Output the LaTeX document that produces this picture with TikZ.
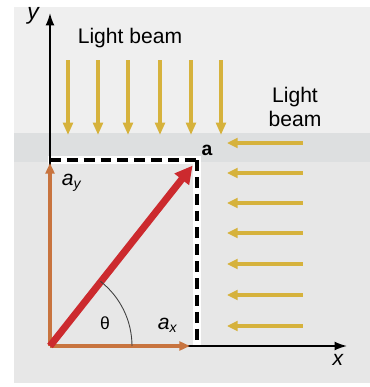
\documentclass[tikz,border=0pt]{standalone}
\usepackage{fontspec}
\setmainfont{Liberation Sans}
\usetikzlibrary{arrows.meta, positioning, calc}
\definecolor{beamGold}{HTML}{D6B23C}
\definecolor{vecRed}{HTML}{CC2A2E}
\definecolor{compOrange}{HTML}{C8743F}
\definecolor{panelGray}{HTML}{E7E7E7}
\definecolor{panelLight}{HTML}{EFEFEF}
\definecolor{bandGray}{HTML}{DDDFE0}

\begin{document}
\begin{tikzpicture}[
    x=0.02cm, y=0.02cm,
    vbeam/.style={draw=beamGold, line width=2.2pt,
                 -{Triangle[length=7pt, width=5.5pt]}},
    hbeam/.style={draw=beamGold, line width=2.6pt,
                 -{Triangle[length=6pt, width=5.5pt]}},
    axis/.style={draw=black, line width=0.9pt, -{Latex[length=7pt, width=5pt]}},
    comp/.style={draw=compOrange, line width=2.2pt,
                 -{Triangle[length=6pt, width=5pt]}},
    vec/.style={draw=vecRed, line width=4pt,
                 -{Triangle[length=10pt, width=10pt]}},
    halo/.style={draw=white, line width=4.2pt},
    dashline/.style={draw=black, line width=2.4pt, dash pattern=on 6.2pt off 3.4pt},
    lbl/.style={font=\fontsize{12}{13.5}\selectfont, align=center, inner sep=1pt},
  ]
    \useasboundingbox (0,0) rectangle (370,387);

    % panel
    \fill[panelGray] (14,4) rectangle (370,380);
    \fill[panelLight] (14,254) rectangle (370,380);
    \fill[bandGray] (14,225) rectangle (370,254);

    \coordinate (O) at (50,41);
    \coordinate (A) at (197,227);

    % light beam from above
    \draw[vbeam] (68,327) -- (68,252);
    \draw[vbeam] (98,327) -- (98,252);
    \draw[vbeam] (128,327) -- (128,252);
    \draw[vbeam] (160,327) -- (160,252);
    \draw[vbeam] (191,327) -- (191,252);
    \draw[vbeam] (221,327) -- (221,252);

    % light beam from the right
    \draw[hbeam] (303,244) -- (227,244);
    \draw[hbeam] (303,214) -- (227,214);
    \draw[hbeam] (303,184) -- (227,184);
    \draw[hbeam] (303,154) -- (227,154);
    \draw[hbeam] (303,123) -- (227,123);
    \draw[hbeam] (303,92) -- (227,92);
    \draw[hbeam] (303,61) -- (227,61);

    % projections
    \draw[halo] (48,227) -- (A) -- (A |- O);
    \draw[dashline] (50,227) -- (A);
    \draw[dashline] (A) -- (A |- O);

    % axes
    \draw[axis] (O) -- (347,41) coordinate (xend);
    \draw[axis] (O) -- (50,374) coordinate (yend);

    % components and vector
    \draw[comp] (O) -- (50,224);
    \draw[comp] (O) -- (190,41);
    \draw[vec] (O) -- ($(O)!0.97!(A)$);
    \draw[black!75, line width=0.5pt] ($(O)+(82,0)$) arc[start angle=0, end angle=52, radius=82];

    % labels
    \node[lbl] (top) at (130,349) {Light beam};
    \node[lbl] (side) at (295,280) {Light\\beam};
    \node[lbl, font=\fontsize{13}{14}\selectfont\itshape] (ylab) at (33,371) {y};
    \node[lbl, font=\fontsize{12}{13.5}\selectfont\itshape] (xlab) at (338,27) {x};
    \node[lbl, font=\fontsize{11}{13}\selectfont\bfseries] (alab) at (207,237) {a};
    \node[lbl] (aylab) at (72,204) {\textit{a}\textsubscript{\textit{y}}};
    \node[lbl] (axlab) at (168,62) {\textit{a}\textsubscript{\textit{x}}};
    \node[lbl, font=\fontsize{10}{12}\selectfont] (th) at (105,64) {θ};
  \end{tikzpicture}
\end{document}
